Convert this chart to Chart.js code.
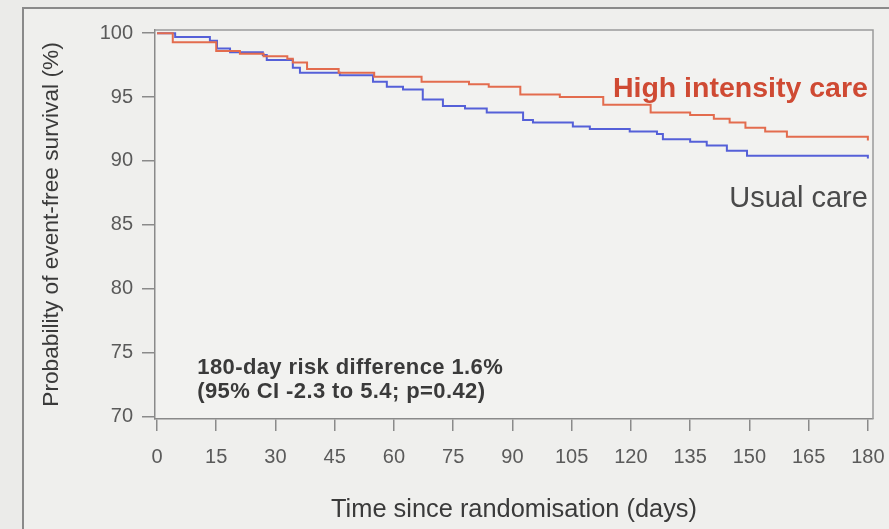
<!DOCTYPE html>
<html>
<head>
<meta charset="utf-8">
<script src="https://cdn.jsdelivr.net/npm/chart.js@4"></script>
<style>
  html, body { margin: 0; padding: 0; background: #ebebe9; }
  #wrap { width: 889px; height: 529px; }
</style>
</head>
<body>
<div id="wrap"><canvas id="km" width="889" height="529"></canvas></div>
<script>
// Kaplan-Meier steps (day of event, survival % after it)
const daysHigh = [0, 4, 15, 21, 27, 33, 34.4, 38, 46, 55, 67, 79, 84, 92, 102, 113, 125, 135, 141, 145, 149, 154, 159.5, 180];
const survHigh = [100, 99.3, 98.6, 98.4, 98.2, 98.0, 97.7, 97.2, 96.9, 96.6, 96.2, 96.0, 95.8, 95.2, 95.0, 94.4, 93.8, 93.6, 93.3, 93.0, 92.6, 92.3, 91.9, 91.6];

const daysUsual = [0, 4.6, 13.4, 15.2, 18.5, 26.8, 27.8, 34.4, 36.2, 46.3, 54.7, 58.2, 62.3, 67.3, 72.4, 78, 83.5, 92.7, 95.2, 105.3, 109.6, 119.7, 126.6, 128.1, 135, 139.2, 144.3, 149.4, 180];
const survUsual = [100, 99.7, 99.4, 98.8, 98.5, 98.3, 97.9, 97.3, 96.9, 96.7, 96.2, 95.8, 95.6, 94.8, 94.3, 94.1, 93.8, 93.2, 93.0, 92.7, 92.5, 92.3, 92.1, 91.7, 91.5, 91.2, 90.8, 90.4, 90.2];

const xTicks = [0, 15, 30, 45, 60, 75, 90, 105, 120, 135, 150, 165, 180];
const yTicks = [70, 75, 80, 85, 90, 95, 100];

const seriesNames = ["High intensity care", "Usual care"];
const noteLines = ["180-day risk difference 1.6%", "(95% CI -2.3 to 5.4; p=0.42)"];

const FONT = "'Liberation Sans', Arial, sans-serif";

function toPoints(xs, ys) {
  return xs.map((d, i) => ({ x: d, y: ys[i] }));
}

// background, outer frame, box and text labels
const decor = {
  id: "decor",
  beforeDraw(chart) {
    const ctx = chart.ctx;
    const a = chart.chartArea;
    ctx.save();
    ctx.fillStyle = "#ebebe9";
    ctx.fillRect(0, 0, chart.width, chart.height);
    ctx.fillStyle = "#efefed";
    ctx.fillRect(23, 8, chart.width, chart.height);
    ctx.strokeStyle = "#8a8a8a";
    ctx.lineWidth = 2;
    ctx.beginPath();
    ctx.moveTo(23, chart.height + 2);
    ctx.lineTo(23, 8);
    ctx.lineTo(chart.width + 2, 8);
    ctx.stroke();
    ctx.fillStyle = "#f2f2f0";
    ctx.fillRect(a.left, a.top, a.right - a.left, a.bottom - a.top);
    ctx.restore();
  },
  afterDraw(chart) {
    const ctx = chart.ctx;
    const a = chart.chartArea;
    const x = chart.scales.x, y = chart.scales.y;
    ctx.save();
    ctx.strokeStyle = "#9a9a9a";
    ctx.lineWidth = 1.5;
    ctx.beginPath();
    ctx.moveTo(a.left, a.top);
    ctx.lineTo(a.right, a.top);
    ctx.lineTo(a.right, a.bottom);
    ctx.stroke();

    ctx.textAlign = "right";
    ctx.textBaseline = "middle";
    ctx.font = "bold 28.5px " + FONT;
    ctx.fillStyle = "#cf4a33";
    ctx.fillText(seriesNames[0], x.getPixelForValue(180), y.getPixelForValue(95.6));
    ctx.font = "29px " + FONT;
    ctx.fillStyle = "#4a4a4a";
    ctx.fillText(seriesNames[1], x.getPixelForValue(180), y.getPixelForValue(87.0));

    ctx.textAlign = "left";
    ctx.font = "bold 22px " + FONT;
    ctx.letterSpacing = "0.4px";
    ctx.fillStyle = "#3a3a3a";
    ctx.fillText(noteLines[0], x.getPixelForValue(10.2), y.getPixelForValue(73.8));
    ctx.fillText(noteLines[1], x.getPixelForValue(10.2), y.getPixelForValue(71.9));
    ctx.restore();
  }
};

new Chart(document.getElementById("km"), {
  type: "line",
  data: {
    datasets: [
      {
        label: seriesNames[0],
        data: toPoints(daysHigh, survHigh),
        borderColor: "#e36c4e",
        borderWidth: 2,
        stepped: "before",
        pointRadius: 0,
        fill: false
      },
      {
        label: seriesNames[1],
        data: toPoints(daysUsual, survUsual),
        borderColor: "#5560d8",
        borderWidth: 2,
        stepped: "before",
        pointRadius: 0,
        fill: false
      }
    ]
  },
  options: {
    responsive: false,
    animation: false,
    layout: { padding: { top: 30, right: 16, left: 0, bottom: 0 } },
    plugins: { legend: { display: false }, tooltip: { enabled: false } },
    scales: {
      x: {
        type: "linear",
        min: -0.5,
        max: 181.3,
        afterBuildTicks: (s) => { s.ticks = xTicks.map((v) => ({ value: v })); },
        afterFit: (s) => { s.height = 110; s.paddingLeft = 0; s.paddingRight = 0; },
        border: { display: true, color: "#8a8a8a", width: 1.5 },
        grid: { drawOnChartArea: false, drawTicks: true, tickLength: 12, color: "#8a8a8a", lineWidth: 1.5 },
        ticks: { color: "#5a5a5a", font: { family: FONT, size: 20 }, padding: 14, maxRotation: 0 },
        title: { display: true, text: "Time since randomisation (days)", color: "#3a3a3a", font: { family: FONT, size: 25.4 }, padding: { top: 8 } }
      },
      y: {
        type: "linear",
        min: 69.8,
        max: 100.25,
        afterBuildTicks: (s) => { s.ticks = yTicks.map((v) => ({ value: v })); },
        afterFit: (s) => { s.width = 155; s.paddingTop = 0; s.paddingBottom = 0; },
        border: { display: true, color: "#8a8a8a", width: 1.5 },
        grid: { drawOnChartArea: false, drawTicks: true, tickLength: 13, color: "#8a8a8a", lineWidth: 1.5 },
        ticks: { color: "#5a5a5a", font: { family: FONT, size: 20 }, padding: 9 },
        title: { display: true, text: "Probability of event-free survival (%)", color: "#3a3a3a", font: { family: FONT, size: 22.7 }, padding: { top: 38, bottom: 0 } }
      }
    }
  },
  plugins: [decor]
});
</script>
</body>
</html>
